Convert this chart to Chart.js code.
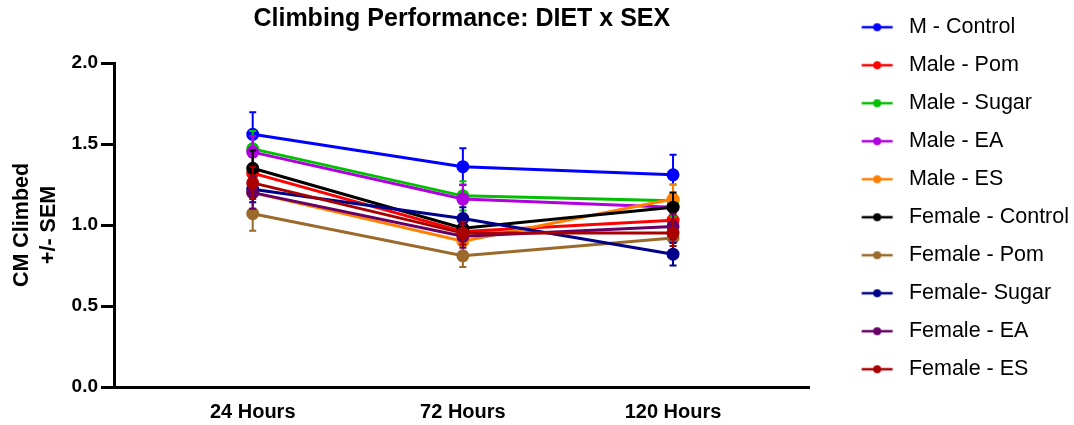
<!DOCTYPE html>
<html>
<head>
<meta charset="utf-8">
<script src="https://cdn.jsdelivr.net/npm/chart.js@4/dist/chart.umd.min.js"></script>
<style>
  html, body { margin: 0; padding: 0; background: #fff; }
  #wrap { width: 1074px; height: 425px; }
</style>
</head>
<body>
<div id="wrap"><canvas id="c" width="1074" height="425"></canvas></div>
<script>
// Time points
const timepoints = ['24 Hours', '72 Hours', '120 Hours'];

// Group names
const groups = [
  'M - Control', 'Male - Pom', 'Male - Sugar', 'Male - EA', 'Male - ES',
  'Female - Control', 'Female - Pom', 'Female- Sugar', 'Female - EA', 'Female - ES'
];

// Mean cm climbed per group at each time point
const mControl   = [1.56, 1.36, 1.31];
const malePom    = [1.32, 0.96, 1.03];
const maleSugar  = [1.47, 1.18, 1.15];
const maleEA     = [1.45, 1.16, 1.11];
const maleES     = [1.20, 0.90, 1.16];
const femControl = [1.35, 0.98, 1.11];
const femPom     = [1.07, 0.81, 0.92];
const femSugar   = [1.22, 1.04, 0.82];
const femEA      = [1.20, 0.93, 0.99];
const femES      = [1.26, 0.95, 0.95];

// Standard error of the mean for each group
const semMControl   = [0.136, 0.113, 0.123];
const semMalePom    = [0.10, 0.07, 0.08];
const semMaleSugar  = [0.11, 0.09, 0.10];
const semMaleEA     = [0.10, 0.09, 0.08];
const semMaleES     = [0.10, 0.07, 0.09];
const semFemControl = [0.11, 0.07, 0.09];
const semFemPom     = [0.105, 0.07, 0.08];
const semFemSugar   = [0.08, 0.07, 0.07];
const semFemEA      = [0.10, 0.07, 0.08];
const semFemES      = [0.10, 0.07, 0.08];

const yTicks = [0, 0.5, 1.0, 1.5, 2.0];

const means = [mControl, malePom, maleSugar, maleEA, maleES, femControl, femPom, femSugar, femEA, femES];
const sems  = [semMControl, semMalePom, semMaleSugar, semMaleEA, semMaleES, semFemControl, semFemPom, semFemSugar, semFemEA, semFemES];
const colors = ['#0000FF', '#FF0000', '#00C000', '#B000E0', '#FF8000',
                '#000000', '#9B6A2B', '#00008B', '#660066', '#AA0000'];

// Legend swatch: transparent lead-in, then a short line with a dot
function swatch(color) {
  const cv = document.createElement('canvas');
  cv.width = 72; cv.height = 12;
  const g = cv.getContext('2d');
  g.strokeStyle = color; g.lineWidth = 2.5;
  g.beginPath(); g.moveTo(35.5, 6); g.lineTo(66.5, 6); g.stroke();
  g.fillStyle = color;
  g.beginPath(); g.arc(51, 6, 4, 0, Math.PI * 2); g.fill();
  return cv;
}

// Later groups are layered on top of earlier ones
const datasets = groups.map((name, i) => ({
  label: name,
  data: means[i].map((v, k) => ({ x: k, y: v })),
  sem: sems[i],
  order: -i,
  borderColor: colors[i],
  backgroundColor: colors[i],
  borderWidth: 3,
  pointRadius: 5,
  pointHoverRadius: 5,
  tension: 0,
  fill: false
}));

// Vertical error bars with caps, drawn with each series
const errorBars = {
  id: 'errorBars',
  afterDatasetDraw(chart, args) {
    const ds = chart.data.datasets[args.index];
    const ys = chart.scales.y, xs = chart.scales.x;
    const ctx = chart.ctx;
    ctx.save();
    ctx.strokeStyle = ds.borderColor;
    ctx.lineWidth = 2;
    ds.data.forEach((p, k) => {
      const e = ds.sem[k];
      const x = xs.getPixelForValue(p.x);
      const yHi = ys.getPixelForValue(p.y + e);
      const yLo = ys.getPixelForValue(p.y - e);
      ctx.beginPath();
      ctx.moveTo(x, yHi); ctx.lineTo(x, yLo);
      ctx.moveTo(x - 3.5, yHi); ctx.lineTo(x + 3.5, yHi);
      ctx.moveTo(x - 3.5, yLo); ctx.lineTo(x + 3.5, yLo);
      ctx.stroke();
    });
    ctx.restore();
  }
};

const FONT = 'Liberation Sans, Arial, Helvetica, sans-serif';

new Chart(document.getElementById('c'), {
  type: 'line',
  data: { datasets },
  plugins: [errorBars],
  options: {
    responsive: false,
    animation: false,
    events: [],
    layout: { padding: { left: 0, right: -5, top: 0, bottom: 0 } },
    plugins: {
      title: {
        display: true,
        text: 'Climbing Performance: DIET x SEX',
        fullSize: false,
        color: '#000',
        font: { family: FONT, size: 25, weight: 'bold', lineHeight: 1.2 },
        padding: { top: 4, bottom: 29 }
      },
      legend: {
        position: 'right',
        align: 'start',
        labels: {
          color: '#000',
          font: { family: FONT, size: 21.5 },
          usePointStyle: true,
          pointStyleWidth: 72,
          boxHeight: 12,
          padding: 16.5,
          generateLabels(chart) {
            return chart.data.datasets.map((ds, i) => ({
              text: ds.label,
              fillStyle: ds.borderColor,
              strokeStyle: ds.borderColor,
              fontColor: '#000',
              lineWidth: 0,
              pointStyle: swatch(ds.borderColor),
              hidden: false,
              datasetIndex: i
            }));
          }
        }
      },
      tooltip: { enabled: false }
    },
    scales: {
      x: {
        type: 'linear',
        min: -0.66,
        max: 2.65,
        grid: { display: false, drawTicks: false },
        border: { color: '#000', width: 3 },
        afterBuildTicks(scale) {
          scale.ticks = timepoints.map((t, k) => ({ value: k }));
        },
        afterFit(scale) { scale.height = 38; },
        ticks: {
          color: '#000',
          font: { family: FONT, size: 20, weight: 'bold' },
          padding: 13,
          maxRotation: 0,
          autoSkip: false,
          callback: (v) => timepoints[v]
        }
      },
      y: {
        min: 0,
        max: 2,
        grid: { display: true, drawOnChartArea: false, drawTicks: true, tickLength: 13, lineWidth: 3, tickWidth: 3, tickColor: '#000', color: '#000' },
        border: { color: '#000', width: 3 },
        afterBuildTicks(scale) {
          scale.ticks = yTicks.map(v => ({ value: v }));
        },
        afterFit(scale) { scale.width = 114; },
        ticks: {
          color: '#000',
          font: { family: FONT, size: 19, weight: 'bold' },
          padding: 3,
          callback: (v) => v.toFixed(1)
        },
        title: {
          display: true,
          text: ['CM Climbed', '+/- SEM'],
          color: '#000',
          font: { family: FONT, size: 21.5, weight: 'bold', lineHeight: 1.25 },
          padding: { top: 8.5, bottom: 0 }
        }
      }
    }
  }
});
</script>
</body>
</html>
